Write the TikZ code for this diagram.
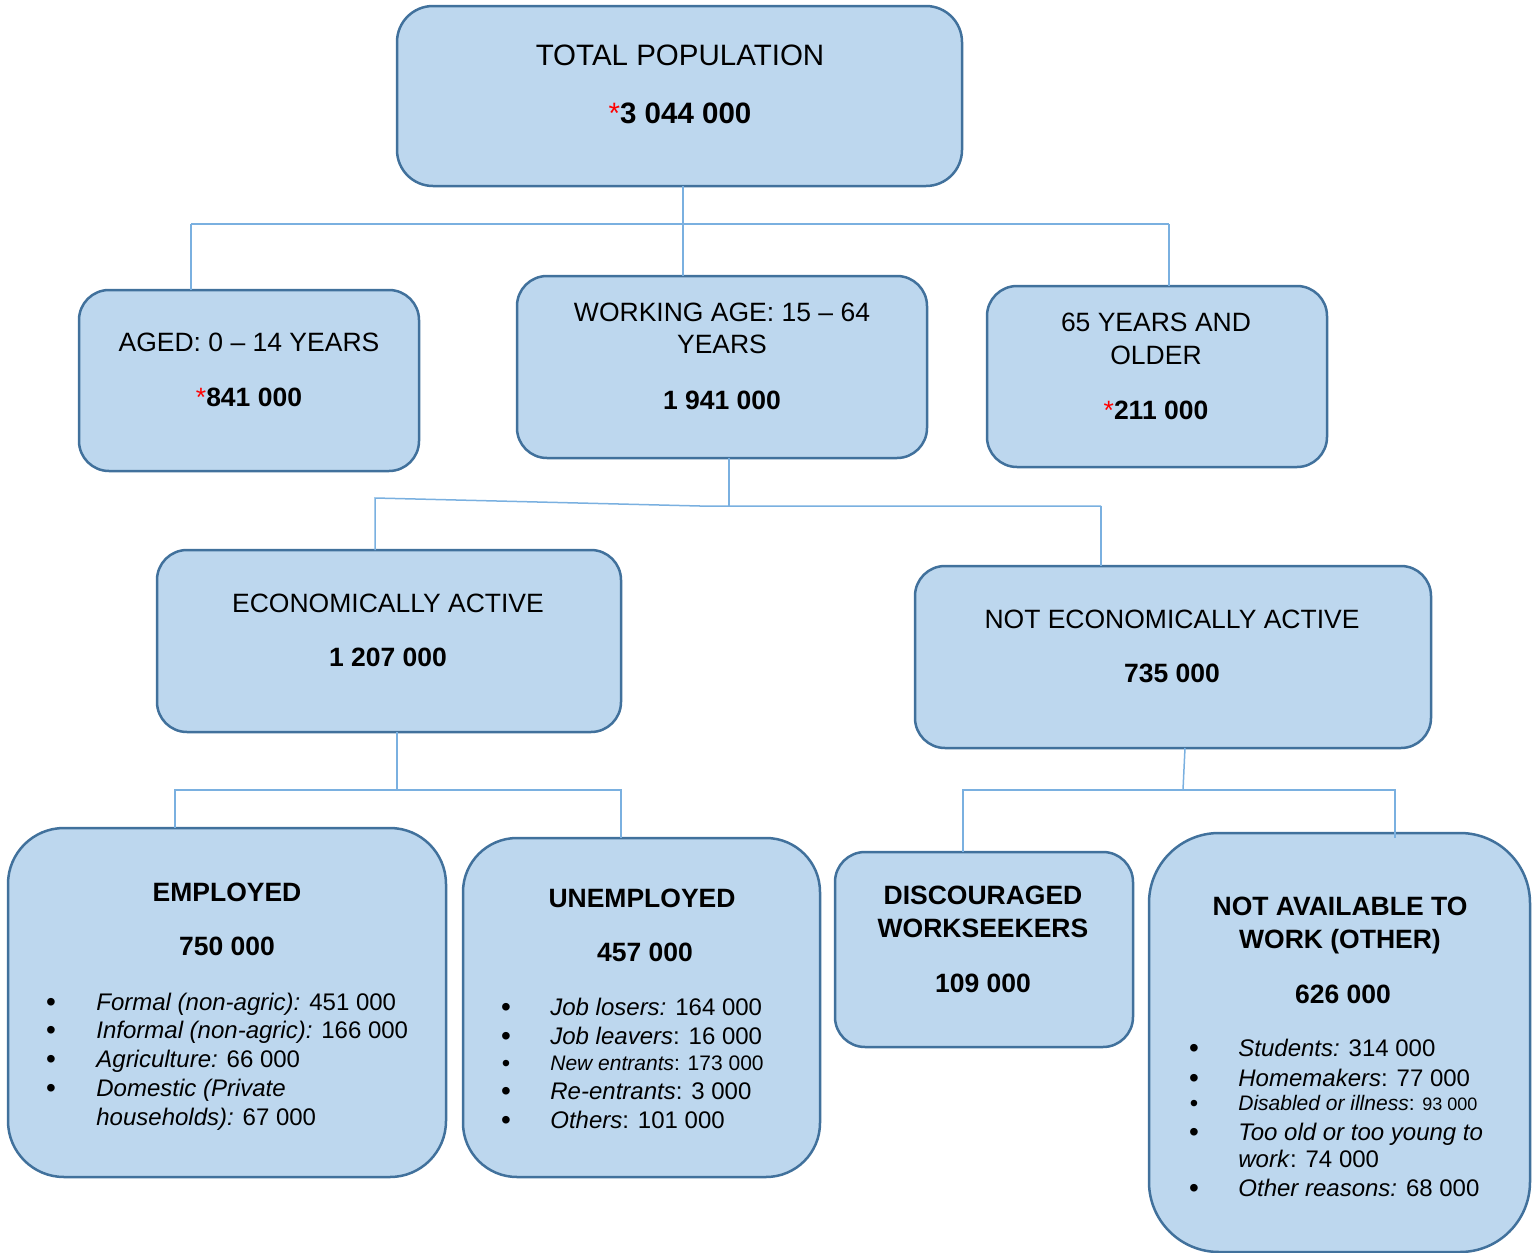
\documentclass[tikz,border=0pt]{standalone}
\usepackage{fontspec}
\setmainfont{Liberation Sans}
\usetikzlibrary{calc}
\definecolor{boxfill}{HTML}{BDD7EE}
\definecolor{boxline}{HTML}{41719C}
\definecolor{connline}{HTML}{7AB0E0}
\newcommand\fs[1]{\fontsize{#1}{#1}\selectfont}
\newcommand\redstar{\textcolor{red}{*}}
\tikzset{
  box/.style={draw=boxline, fill=boxfill, line width=1.25pt, inner sep=0pt, outer sep=0pt},
  conn/.style={draw=connline, line width=0.75pt},
  txt/.style={inner sep=0pt, anchor=base, text=black},
  ttl/.style={txt, font=\fs{14.75}},
  hd/.style={txt, font=\fs{13.25}},
  hdb/.style={txt, font=\fs{13.25}\bfseries},
  bul/.style={inner sep=0pt, anchor=base, text=black, font=\fs{14}},
  item/.style={inner sep=0pt, anchor=base west, text=black, font=\fs{12}},
}
\begin{document}
\begin{tikzpicture}[x=0.5pt,y=-0.5pt]
\useasboundingbox (0,0) rectangle (1533,1253);

% ---- boxes ----
\node[box, rounded corners=18pt, minimum width=282.5pt, minimum height=90pt] (tot) at (679.5,96) {};
\node[box, rounded corners=15pt, minimum width=170pt, minimum height=90.5pt] (aged) at (249,380.5) {};
\node[box, rounded corners=15pt, minimum width=205pt, minimum height=91pt] (work) at (722,367) {};
\node[box, rounded corners=15pt, minimum width=170pt, minimum height=90.5pt] (old) at (1157,376.5) {};
\node[box, rounded corners=15pt, minimum width=232pt, minimum height=91pt] (econ) at (389,641) {};
\node[box, rounded corners=15pt, minimum width=258pt, minimum height=91pt] (notecon) at (1173,657) {};
\node[box, rounded corners=28pt, minimum width=219pt, minimum height=174.5pt] (emp) at (227,1002.5) {};
\node[box, rounded corners=27pt, minimum width=178.5pt, minimum height=169.5pt] (unemp) at (641.5,1007.5) {};
\node[box, rounded corners=15pt, minimum width=149pt, minimum height=97.5pt] (disc) at (984,949.5) {};
\node[box, rounded corners=35pt, minimum width=190.5pt, minimum height=209.5pt] (navail) at (1339.5,1042.5) {};

% ---- connectors ----
\coordinate (j1) at (683,224);
\coordinate (ja) at (191,224);
\coordinate (jc) at (1169,224);
\draw[conn] (tot.south -| j1) -- (j1);
\draw[conn] (ja) -- (jc);
\draw[conn] (ja) -- (ja |- aged.north);
\draw[conn] (j1) -- (j1 |- work.north);
\draw[conn] (jc) -- (jc |- old.north);

\coordinate (j2) at (729,506);
\coordinate (j2a) at (700,506);
\coordinate (j2l) at (375,498);
\coordinate (j2r) at (1101,506);
\draw[conn] (work.south -| j2) -- (j2);
\draw[conn] (j2r) -- (j2a) -- (j2l) -- (j2l |- econ.north);
\draw[conn] (j2r) -- (j2r |- notecon.north);

\coordinate (j3) at (397,790);
\coordinate (j3l) at (175,790);
\coordinate (j3r) at (621,790);
\draw[conn] (econ.south -| j3) -- (j3);
\draw[conn] (j3l |- emp.north) -- (j3l) -- (j3r) -- (j3r |- unemp.north);

\coordinate (j4) at (1183,790);
\coordinate (j4l) at (963,790);
\coordinate (j4r) at (1395,790);
\coordinate (j4e) at (1395,838);
\draw[conn] ($(notecon.south)+(12,0)$) -- (j4);
\draw[conn] (j4l |- disc.north) -- (j4l) -- (j4r) -- (j4e);

% ---- texts ----
\node[ttl] (totT) at (680,65) {TOTAL POPULATION};
\node[ttl] (totN) at (680,123.5) {\redstar\textbf{3 044 000}};

\node[hd] (agedT) at (249,351.5) {AGED: 0 – 14 YEARS};
\node[hd] (agedN) at (249,406.5) {\redstar\textbf{841 000}};

\node[hd] (workT1) at (722,321.5) {WORKING AGE: 15 – 64};
\node[hd] (workT2) at (722,353.5) {YEARS};
\node[hdb] (workN) at (722,409.5) {1 941 000};

\node[hd] (oldT1) at (1156,331.5) {65 YEARS AND};
\node[hd] (oldT2) at (1156,364.5) {OLDER};
\node[hd] (oldN) at (1156,419.5) {\redstar\textbf{211 000}};

\node[hd] (econT) at (388,612.5) {ECONOMICALLY ACTIVE};
\node[hdb] (econN) at (388,666.5) {1 207 000};

\node[hd] (notT) at (1172,628.5) {NOT ECONOMICALLY ACTIVE};
\node[hdb] (notN) at (1172,682.5) {735 000};

% employed
\node[hdb] (empT) at (227,901.5) {EMPLOYED};
\node[hdb] (empN) at (227,955.5) {750 000};
\node[bul] (eb1) at (51,1011.5) {•};
\node[bul] (eb2) at (51,1039.5) {•};
\node[bul] (eb3) at (51,1068.5) {•};
\node[bul] (eb4) at (51,1097.5) {•};
\node[item] (ei1) at (96,1010.5) {\textit{Formal (non-agric):} 451 000};
\node[item] (ei2) at (96,1038.5) {\textit{Informal (non-agric):} 166 000};
\node[item] (ei3) at (96,1067.5) {\textit{Agriculture:} 66 000};
\node[item] (ei4) at (96,1096.5) {\textit{Domestic (Private}};
\node[item] (ei5) at (96,1125.5) {\textit{households):} 67 000};

% unemployed
\node[hdb] (unT) at (642,907.5) {UNEMPLOYED};
\node[hdb] (unN) at (645,961.5) {457 000};
\node[bul] (ub1) at (506,1016.5) {•};
\node[bul] (ub2) at (506,1045.5) {•};
\node[bul, font=\fs{12}] (ub3) at (506,1071.5) {•};
\node[bul] (ub4) at (506,1100.5) {•};
\node[bul] (ub5) at (506,1129.5) {•};
\node[item] (ui1) at (550,1015.5) {\textit{Job losers:} 164 000};
\node[item] (ui2) at (550,1044.5) {\textit{Job leavers}: 16 000};
\node[item, font=\fs{10.5}] (ui3) at (550,1070.5) {\textit{New entrants}: 173 000};
\node[item] (ui4) at (550,1099.5) {\textit{Re-entrants}: 3 000};
\node[item] (ui5) at (550,1128.5) {\textit{Others}: 101 000};

% discouraged
\node[hdb] (dT1) at (983,904.5) {DISCOURAGED};
\node[hdb] (dT2) at (983,937.5) {WORKSEEKERS};
\node[hdb] (dN) at (983,992.5) {109 000};

% not available
\node[hdb] (nT1) at (1340,915.5) {NOT AVAILABLE TO};
\node[hdb] (nT2) at (1340,948.5) {WORK (OTHER)};
\node[hdb] (nN) at (1343,1003.5) {626 000};
\node[bul] (nb1) at (1194,1057.5) {•};
\node[bul] (nb2) at (1194,1087.5) {•};
\node[bul, font=\fs{12}] (nb3) at (1194,1111.5) {•};
\node[bul] (nb4) at (1194,1141.5) {•};
\node[bul] (nb6) at (1194,1197.5) {•};
\node[item] (ni1) at (1238,1056.5) {\textit{Students:} 314 000};
\node[item] (ni2) at (1238,1086.5) {\textit{Homemakers}: 77 000};
\node[item, font=\fs{10.5}] (ni3) at (1238,1110.5) {\textit{Disabled or illness}: {\fs{9}93 000}};
\node[item] (ni4) at (1238,1140.5) {\textit{Too old or too young to}};
\node[item] (ni5) at (1238,1167.5) {\textit{work}: 74 000};
\node[item] (ni6) at (1238,1196.5) {\textit{Other reasons:} 68 000};
\end{tikzpicture}
\end{document}
